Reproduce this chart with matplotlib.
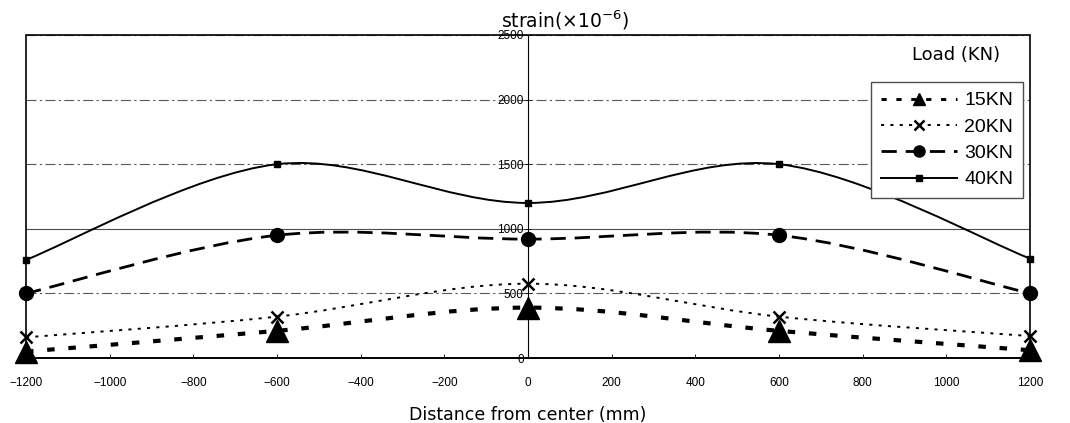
import matplotlib
matplotlib.use("Agg")
import matplotlib.pyplot as plt
import numpy as np
from matplotlib.path import Path
from matplotlib.patches import PathPatch, Rectangle
from matplotlib.lines import Line2D

# ---- data ----
distance = [-1200, -600, 0, 600, 1200]
load_labels = ["15KN", "20KN", "30KN", "40KN"]
strain_15 = [50, 210, 390, 210, 60]
strain_20 = [160, 320, 575, 320, 170]
strain_30 = [500, 950, 920, 950, 500]
strain_40 = [760, 1500, 1200, 1500, 770]
x_ticks = list(range(-1200, 1201, 200))
y_ticks = [0, 500, 1000, 1500, 2000, 2500]

series = [strain_15, strain_20, strain_30, strain_40]
styles = [
    dict(lw=3.0, dashes=(1.8, 3.3), marker="^", ms=16, lms=8),
    dict(lw=1.4, dashes=(1.6, 3.2), marker="x", ms=9, lms=7, mew=1.8),
    dict(lw=2.0, dashes=(5.5, 3.2), marker="o", ms=10, lms=8),
    dict(lw=1.4, dashes=None, marker="s", ms=5, lms=5),
]

fig = plt.figure(figsize=(10.70, 4.23), dpi=100)
ax = fig.add_axes([26 / 1070, 1 - 358 / 423, 1004 / 1070, 323 / 423])
ax.set_xlim(-1200, 1200)
ax.set_ylim(0, 2500)


def smooth_path(xs, ys, t=1 / 6):
    # Excel-style smoothed line: cubic Bezier segments through the data points
    pts = np.column_stack([xs, ys]).astype(float)
    n = len(pts)
    verts = [pts[0]]
    codes = [Path.MOVETO]
    for i in range(n - 1):
        p_prev = pts[i - 1] if i > 0 else pts[i]
        p_next2 = pts[i + 2] if i + 2 < n else pts[i + 1]
        c1 = pts[i] + (pts[i + 1] - p_prev) * t
        c2 = pts[i + 1] - (p_next2 - pts[i]) * t
        verts += [c1, c2, pts[i + 1]]
        codes += [Path.CURVE4] * 3
    return Path(verts, codes)


handles = []
for vals, lab, st in zip(series, load_labels, styles):
    ls = "-" if st["dashes"] is None else (0, st["dashes"])
    patch = PathPatch(smooth_path(distance, vals), facecolor="none",
                      edgecolor="black", lw=st["lw"], linestyle=ls,
                      capstyle="butt", zorder=3)
    ax.add_patch(patch)
    ax.plot(distance, vals, linestyle="none", marker=st["marker"],
            ms=st["ms"], color="black", mew=st.get("mew", 1.0),
            clip_on=False, zorder=4)
    h = Line2D([0], [0], color="black", lw=st["lw"] * 0.7 if st["lw"] > 2 else st["lw"],
               marker=st["marker"], ms=st["lms"], mew=st.get("mew", 1.0))
    if st["dashes"] is not None:
        h.set_dashes(st["dashes"])
    handles.append(h)

# y axis at the centre
ax.spines["left"].set_position(("data", 0))
ax.spines["left"].set_linewidth(0.8)
for s in ["right", "top"]:
    ax.spines[s].set_visible(False)
ax.spines["bottom"].set_linewidth(1.2)
ax.add_patch(Rectangle((0, 0), 1, 1, transform=ax.transAxes, fill=False,
                       edgecolor="black", lw=1.2, zorder=5, clip_on=False))

ax.set_xticks(x_ticks)
ax.set_xticklabels([str(v).replace("-", "\u2212") for v in x_ticks],
                   fontfamily="Liberation Sans", fontsize=8.5)
ax.set_yticks(y_ticks)
ax.set_yticklabels([str(v) for v in y_ticks], fontfamily="Liberation Sans", fontsize=8.5)
ax.tick_params(axis="x", direction="in", length=3, width=0.6, pad=14)
ax.tick_params(axis="y", direction="inout", length=4, width=0.6, pad=1)

ax.grid(axis="y", color="0.35", lw=0.8, linestyle=(0, (9, 3, 2, 3)))
gl = ax.yaxis.get_gridlines()
gl[2].set_linestyle("-")
gl[2].set_color("0.3")

ax.set_xlabel("Distance from center (mm)", fontfamily="DejaVu Sans",
              fontsize=12.5, labelpad=12)
fig.text(565 / 1070, 1 - 20 / 423, r"strain($\times$10$^{-6}$)",
         fontfamily="DejaVu Sans", fontsize=13.5, ha="center", va="center")

ax.text(0.970, 0.938, "Load (KN)", transform=ax.transAxes, ha="right",
        va="center", fontfamily="DejaVu Sans", fontsize=13)

leg = ax.legend(handles, load_labels, loc="upper left",
                bbox_to_anchor=(0.8416, 0.8545), borderaxespad=0,
                prop={"family": ["Liberation Sans Narrow", "Liberation Sans"], "size": 14},
                handlelength=3.9, handletextpad=0.4, labelspacing=0.45,
                borderpad=0.5, frameon=True, fancybox=False, framealpha=1)
leg.get_frame().set_edgecolor("0.3")
leg.get_frame().set_linewidth(1.0)
leg.set_zorder(6)

fig.savefig("out.png", dpi=100)
